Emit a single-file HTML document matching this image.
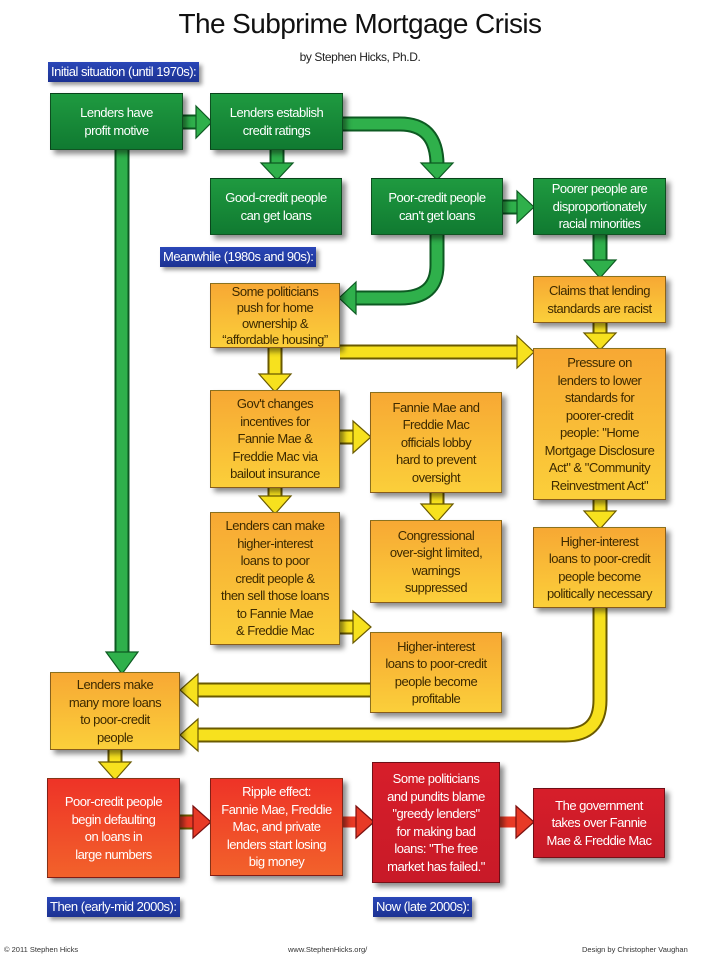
<!DOCTYPE html>
<html><head><meta charset="utf-8"><style>
body{margin:0;width:720px;height:960px;background:#fff;position:relative;overflow:hidden;font-family:"Liberation Sans",sans-serif}
.b{position:absolute;box-sizing:border-box;display:flex;align-items:center;justify-content:center;text-align:center;font-size:13px;letter-spacing:-0.5px;line-height:17.5px;border:1.5px solid rgba(0,0,0,.45);box-shadow:4px 4px 5px rgba(0,0,0,.45);padding:1px;white-space:nowrap}
.g{background:linear-gradient(#1f9a40,#107a31);color:#fff}
.o{background:linear-gradient(#f7a834,#fbcf3a);color:#3d2a00}
.r{background:linear-gradient(#ee3327,#f2622b);color:#fff}
.d{background:linear-gradient(#d71e2a,#c81a28);color:#fff}
.l{position:absolute;background:linear-gradient(#2a47b8,#1c3292);color:#fff;font-size:13px;letter-spacing:-0.5px;line-height:20px;padding:0 3px;box-shadow:3px 3px 4px rgba(0,0,0,.4);white-space:nowrap}
.t{position:absolute;width:720px;text-align:center}
.f{position:absolute;top:945px;font-size:7.5px;color:#333}
svg{position:absolute;left:0;top:0}
</style></head><body>
<div class="t" style="top:8px;font-size:28px;letter-spacing:-0.6px;color:#111">The Subprime Mortgage Crisis</div>
<div class="t" style="top:50px;font-size:12px;letter-spacing:-0.4px;color:#222;left:0">by Stephen Hicks, Ph.D.</div>
<svg width="720" height="960">
<g fill="none" stroke-linejoin="miter">
<g stroke="#0d5a22" stroke-width="15">
<path d="M183 122H200M277 150V165M343 124H400Q437 124 437 165M503 207H520M600 235V262M437 235V265Q437 298 400 298H352M122 150V655"/>
</g>
<g stroke="#2fb04b" stroke-width="11">
<path d="M183 122H200M277 150V165M343 124H400Q437 124 437 165M503 207H520M600 235V262M437 235V265Q437 298 400 298H352M122 150V655"/>
</g>
<g stroke="#6a5a00" stroke-width="15">
<path d="M340 352H520M600 323V335M275 348V376M340 437H356M275 488V498M437 493V506M600 500V513M340 627H356M370 690H195M600 608V700Q600 735 565 735H195M115 750V764M482 822H497M643 822H658M320 822H335M180 822H195"/>
</g>
<g stroke="#f7e11e" stroke-width="11">
<path d="M340 352H520M600 323V335M275 348V376M340 437H356M275 488V498M437 493V506M600 500V513M340 627H356M370 690H195M600 608V700Q600 735 565 735H195M115 750V764"/>
</g>
<g stroke="#e83a26" stroke-width="11"><path d="M180 822H195M343 822H358M500 822H518"/></g>
</g>
<g stroke-width="1.2">
<g fill="#2fb04b" stroke="#0d5a22">
<polygon points="196,106 212,122 196,138"/>
<polygon points="261,163 293,163 277,180"/>
<polygon points="421,163 453,163 437,180"/>
<polygon points="517,191 534,207 517,223"/>
<polygon points="584,260 616,260 600,278"/>
<polygon points="356,282 339,298 356,314"/>
<polygon points="106,652 138,652 122,674"/>
</g>
<g fill="#f7e11e" stroke="#6a5a00">
<polygon points="517,336 534,352 517,368"/>
<polygon points="584,333 616,333 600,350"/>
<polygon points="259,374 291,374 275,392"/>
<polygon points="353,421 371,437 353,453"/>
<polygon points="259,496 291,496 275,514"/>
<polygon points="421,504 453,504 437,522"/>
<polygon points="584,511 616,511 600,529"/>
<polygon points="353,611 371,627 353,643"/>
<polygon points="198,674 180,690 198,706"/>
<polygon points="198,719 180,735 198,751"/>
<polygon points="99,762 131,762 115,780"/>
</g>
<g fill="#e83a26" stroke="#7a1010">
<polygon points="193,806 211,822 193,838"/>
<polygon points="356,806 374,822 356,838"/>
<polygon points="516,806 534,822 516,838"/>
</g>
</g>
</svg>
<div class="l" style="left:48px;top:62px">Initial situation (until 1970s):</div>
<div class="l" style="left:160px;top:247px">Meanwhile (1980s and 90s):</div>
<div class="l" style="left:47px;top:897px">Then (early-mid 2000s):</div>
<div class="l" style="left:373px;top:897px">Now (late 2000s):</div>

<div class="b g" style="left:50px;top:93px;width:133px;height:57px">Lenders have<br>profit motive</div>
<div class="b g" style="left:210px;top:93px;width:133px;height:57px">Lenders establish<br>credit ratings</div>
<div class="b g" style="left:210px;top:178px;width:132px;height:57px">Good-credit people<br>can get loans</div>
<div class="b g" style="left:371px;top:178px;width:132px;height:57px">Poor-credit people<br>can't get loans</div>
<div class="b g" style="left:533px;top:178px;width:133px;height:57px">Poorer people are<br>disproportionately<br>racial minorities</div>

<div class="b o" style="left:210px;top:283px;width:130px;height:65px;line-height:16px">Some politicians<br>push for home<br>ownership &amp;<br>“affordable housing”</div>
<div class="b o" style="left:533px;top:276px;width:133px;height:47px">Claims that lending<br>standards are racist</div>
<div class="b o" style="left:533px;top:348px;width:133px;height:152px">Pressure on<br>lenders to lower<br>standards for<br>poorer-credit<br>people: "Home<br>Mortgage Disclosure<br>Act" &amp; "Community<br>Reinvestment Act"</div>
<div class="b o" style="left:210px;top:390px;width:130px;height:98px">Gov't changes<br>incentives for<br>Fannie Mae &amp;<br>Freddie Mac via<br>bailout insurance</div>
<div class="b o" style="left:370px;top:392px;width:132px;height:101px">Fannie Mae and<br>Freddie Mac<br>officials lobby<br>hard to prevent<br>oversight</div>
<div class="b o" style="left:210px;top:512px;width:130px;height:133px">Lenders can make<br>higher-interest<br>loans to poor<br>credit people &amp;<br>then sell those loans<br>to Fannie Mae<br>&amp; Freddie Mac</div>
<div class="b o" style="left:370px;top:520px;width:132px;height:83px">Congressional<br>over-sight limited,<br>warnings<br>suppressed</div>
<div class="b o" style="left:533px;top:527px;width:133px;height:81px">Higher-interest<br>loans to poor-credit<br>people become<br>politically necessary</div>
<div class="b o" style="left:370px;top:632px;width:132px;height:81px">Higher-interest<br>loans to poor-credit<br>people become<br>profitable</div>
<div class="b o" style="left:50px;top:672px;width:130px;height:78px">Lenders make<br>many more loans<br>to poor-credit<br>people</div>

<div class="b r" style="left:47px;top:778px;width:133px;height:100px">Poor-credit people<br>begin defaulting<br>on loans in<br>large numbers</div>
<div class="b r" style="left:210px;top:778px;width:133px;height:98px">Ripple effect:<br>Fannie Mae, Freddie<br>Mac, and private<br>lenders start losing<br>big money</div>
<div class="b d" style="left:372px;top:762px;width:128px;height:121px">Some politicians<br>and pundits blame<br>"greedy lenders"<br>for making bad<br>loans: "The free<br>market has failed."</div>
<div class="b d" style="left:533px;top:788px;width:132px;height:70px">The government<br>takes over Fannie<br>Mae &amp; Freddie Mac</div>

<div class="f" style="left:4px">© 2011 Stephen Hicks</div>
<div class="f" style="left:288px">www.StephenHicks.org/</div>
<div class="f" style="left:582px">Design by Christopher Vaughan</div>
</body></html>
